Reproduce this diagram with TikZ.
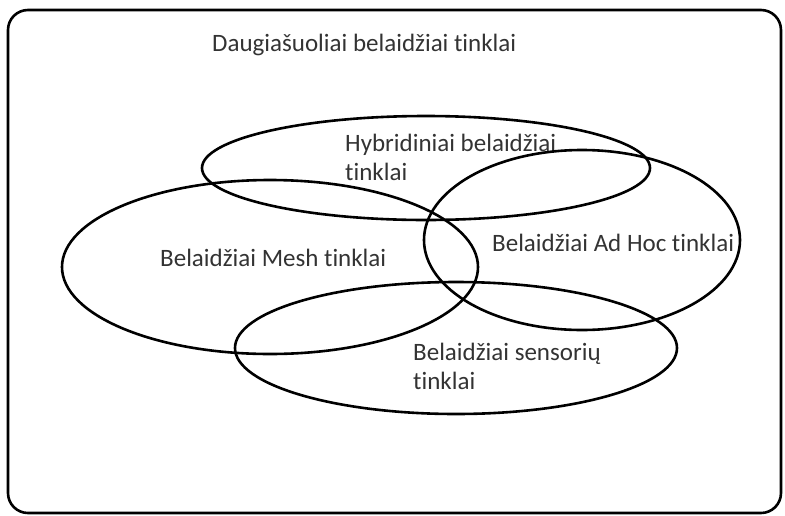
\documentclass[tikz,border=0pt]{standalone}
\usepackage{fontspec}
\setmainfont{Carlito}[Ligatures=NoCommon]
\tikzset{
  ring/.style={line width=2.6pt},
  label/.style={font=\fontsize{25}{29}\selectfont, text=black!80, align=left, inner sep=0pt}
}
\begin{document}
\begin{tikzpicture}[x=1pt,y=-1pt]
      \useasboundingbox (0,0) rectangle (785,515);
      \draw[line width=2.6pt, rounded corners=20pt] (8,10) rectangle (781,513);
      \draw
        (212,45) node[label, anchor=west] (all){Daugiašuoliai belaidžiai tinklai}
        (345,157) node[label, anchor=west] (hyb){Hybridiniai belaidžiai\\tinklai}
        (160,258) node[label, anchor=west] (mesh){Belaidžiai Mesh tinklai}
        (492,243) node[label, anchor=west] (adhoc){Belaidžiai Ad Hoc tinklai}
        (413,366) node[label, anchor=west] (sens){Belaidžiai sensorių\\tinklai};
      \begin{scope}[ring]
        \draw (426,168) ellipse [x radius=224, y radius=52];
        \draw (270,267) ellipse [x radius=208, y radius=87];
        \draw (582,240) ellipse [x radius=158, y radius=90];
        \draw (456,348) ellipse [x radius=221, y radius=66];
      \end{scope}
    \end{tikzpicture}
\end{document}
